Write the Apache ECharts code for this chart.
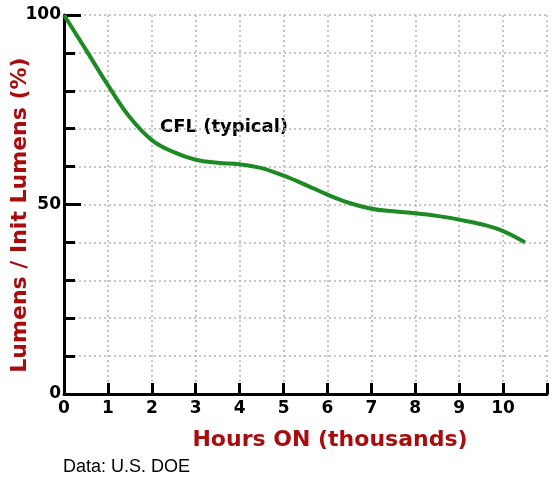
<!DOCTYPE html>
<html>
<head>
<meta charset="utf-8">
<script src="https://cdn.jsdelivr.net/npm/echarts@6/dist/echarts.min.js"></script>
<style>
  html, body { margin: 0; padding: 0; background: #fff; }
  #chart { width: 555px; height: 485px; }
</style>
</head>
<body>
<div id="chart"></div>
<script>
// hours on, in thousands
const hours = [0, 0.5, 1, 1.5, 2, 2.5, 3, 3.5, 4, 4.5, 5, 5.5, 6, 6.5, 7, 7.5, 8, 8.5, 9, 9.5, 10, 10.5];
// lumens as % of initial lumens (CFL typical)
const lumens = [100, 90.8, 81.5, 73, 67, 63.8, 61.8, 61, 60.6, 59.6, 57.6, 55.2, 52.6, 50.4, 48.9, 48.2, 47.7, 47, 46, 44.8, 43, 40];
const yLabels = [0, 50, 100];
const xLabelMax = 10;

const font = '"DejaVu Sans", "Liberation Sans", sans-serif';
const darkRed = '#a80c0c';

var myChart = echarts.init(document.getElementById('chart'));
myChart.setOption({
    animation: false,
    grid: { left: 64, right: 8, top: 15, bottom: 91 },
    xAxis: {
        type: 'value',
        min: 0,
        max: 11,
        interval: 1,
        axisLine: { lineStyle: { color: '#000', width: 3 } },
        axisTick: { inside: true, length: 11, lineStyle: { color: '#000', width: 3 } },
        axisLabel: {
            color: '#000', fontFamily: font, fontWeight: 'bold', fontSize: 17, margin: 6,
            formatter: v => (v <= xLabelMax ? String(v) : '')
        },
        splitLine: { show: true, lineStyle: { color: '#b4b4b4', type: [2, 3], width: 1.5 } }
    },
    yAxis: [
        {
            type: 'value',
            min: 0,
            max: 100,
            interval: 10,
            axisLine: { show: true, lineStyle: { color: '#000', width: 3 } },
            axisTick: { show: true, inside: true, length: 11, lineStyle: { color: '#000', width: 3 } },
            axisLabel: {
                color: '#000', fontFamily: font, fontWeight: 'bold', fontSize: 17, margin: 3,
                formatter: v => (yLabels.indexOf(v) >= 0 ? String(v) : '')
            },
            splitLine: { show: true, lineStyle: { color: '#b4b4b4', type: [2, 3], width: 1.5 } }
        },
        {
            // longer ticks at 0 / 50 / 100
            type: 'value',
            position: 'left',
            min: 0,
            max: 100,
            interval: 50,
            axisLine: { show: false },
            axisTick: { show: true, inside: true, length: 17, lineStyle: { color: '#000', width: 3 } },
            axisLabel: { show: false },
            splitLine: { show: false }
        }
    ],
    graphic: [
        {
            type: 'text', left: 160, top: 118,
            style: { text: 'CFL (typical)', fill: '#000', font: 'bold 18px ' + font }
        },
        {
            type: 'text', x: 20, y: 215, rotation: Math.PI / 2,
            style: {
                text: 'Lumens / Init Lumens (%)', fill: darkRed, font: 'bold 22px ' + font,
                align: 'center', verticalAlign: 'middle'
            }
        },
        {
            type: 'text', x: 330, y: 440,
            style: {
                text: 'Hours ON (thousands)', fill: darkRed, font: 'bold 22px ' + font,
                align: 'center', verticalAlign: 'middle'
            }
        },
        {
            type: 'text', left: 63, top: 458,
            style: { text: 'Data: U.S. DOE', fill: '#000', font: '18px "Liberation Sans", Arial, sans-serif' }
        }
    ],
    series: [
        {
            type: 'line',
            smooth: 0.4,
            symbol: 'none',
            lineStyle: { color: '#1d8a24', width: 4 },
            data: hours.map((h, i) => [h, lumens[i]])
        }
    ]
});
</script>
</body>
</html>
